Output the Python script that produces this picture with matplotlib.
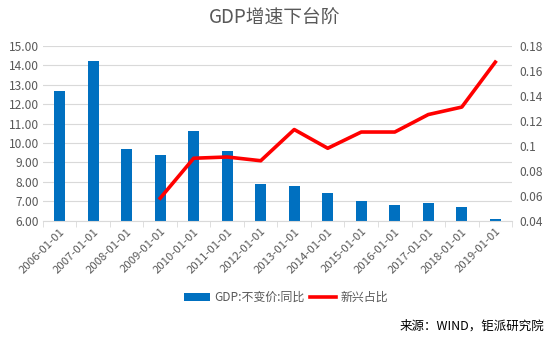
import numpy as np
import matplotlib.pyplot as plt
from matplotlib.ticker import FixedLocator, FuncFormatter

plt.rcParams['font.family'] = ['Noto Sans CJK SC', 'DejaVu Sans']

years = ["2006-01-01", "2007-01-01", "2008-01-01", "2009-01-01", "2010-01-01",
         "2011-01-01", "2012-01-01", "2013-01-01", "2014-01-01", "2015-01-01",
         "2016-01-01", "2017-01-01", "2018-01-01", "2019-01-01"]
gdp_growth = [12.7, 14.2, 9.7, 9.4, 10.6, 9.6, 7.9, 7.8, 7.4, 7.0, 6.8, 6.9, 6.7, 6.1]
# 新兴占比 starts in 2009
new_share = [np.nan, np.nan, np.nan, 0.058, 0.090, 0.091, 0.088, 0.113, 0.098,
             0.111, 0.111, 0.125, 0.131, 0.167]

left_ticks = [6, 7, 8, 9, 10, 11, 12, 13, 14, 15]
right_ticks = [0.04, 0.06, 0.08, 0.10, 0.12, 0.14, 0.16, 0.18]

blue = "#0070C0"
red = "#FF0000"
txt = "#595959"
grid = "#D9D9D9"

fig = plt.figure(figsize=(5.5, 3.4), dpi=100)
ax = fig.add_axes([0.078, 0.351, 0.853, 0.514])
ax2 = ax.twinx()

x = np.arange(len(years))
ax.bar(x, np.array(gdp_growth) - 6, bottom=6, width=0.33, color=blue, zorder=2,
       label="GDP:不变价:同比")
ax2.plot(x, new_share, color=red, lw=2.6, solid_joinstyle="round", zorder=3,
         label="新兴占比")

ax.set_xlim(-0.5, len(years) - 0.5)
ax.set_ylim(6, 15)
ax2.set_ylim(0.04, 0.18)
ax.set_yticks(left_ticks)
ax.yaxis.set_major_formatter(FuncFormatter(lambda v, p: f"{v:.2f}"))
ax2.set_yticks(right_ticks)
ax2.yaxis.set_major_formatter(FuncFormatter(lambda v, p: f"{v:.2f}".rstrip("0")))
ax.grid(axis="y", color=grid, lw=0.8, zorder=0)
ax.set_axisbelow(True)

ax.set_xticks(x)
ax.set_xticklabels(years, rotation=45, ha="right", rotation_mode="anchor",
                   fontsize=8.2, color=txt)
ax.tick_params(axis="x", which="major", length=0, pad=4)
ax.xaxis.set_minor_locator(FixedLocator(np.arange(-0.5, len(years), 1)))
ax.tick_params(axis="x", which="minor", length=4, color=grid)
ax.tick_params(axis="y", length=0, labelsize=8.6, labelcolor=txt, pad=3)
ax2.tick_params(axis="y", length=0, labelsize=8.6, labelcolor=txt, pad=5)

for a in (ax, ax2):
    for s in a.spines.values():
        s.set_visible(False)
ax.spines["bottom"].set_visible(True)
ax.spines["bottom"].set_color(grid)

fig.text(0.5, 0.945, "GDP增速下台阶", ha="center", va="center", fontsize=13.5, color=txt)

h1, l1 = ax.get_legend_handles_labels()
h2, l2 = ax2.get_legend_handles_labels()
fig.legend(h1 + h2, l1 + l2, loc="center", bbox_to_anchor=(0.52, 0.125), ncol=2,
           frameon=False, fontsize=8.6, labelcolor=txt, handlelength=2.2,
           handleheight=0.6, columnspacing=0.4, handletextpad=0.4)

fig.text(0.99, 0.04, "来源：WIND，钜派研究院", ha="right", va="center", fontsize=9,
         color="#000000")

fig.savefig("out.png", dpi=100)
